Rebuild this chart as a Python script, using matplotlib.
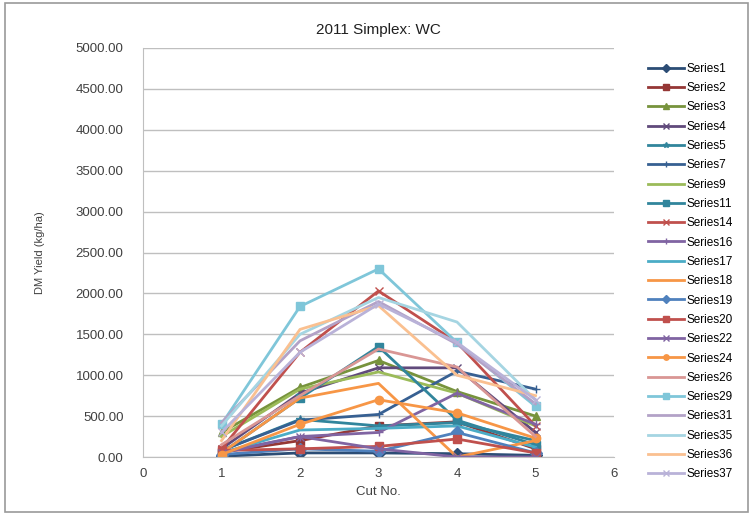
import matplotlib.pyplot as plt
import matplotlib.patches as mpatches

cuts = [1, 2, 3, 4, 5]

series_names = ["Series1", "Series2", "Series3", "Series4", "Series5", "Series7",
                "Series9", "Series11", "Series14", "Series16", "Series17", "Series18",
                "Series19", "Series20", "Series22", "Series24", "Series26", "Series29",
                "Series31", "Series35", "Series36", "Series37"]

s1 = [10, 50, 50, 40, 20]
s2 = [60, 200, 380, 430, 100]
s3 = [300, 850, 1180, 800, 500]
s4 = [100, 780, 1090, 1090, 300]
s5 = [80, 460, 380, 420, 200]
s7 = [80, 450, 520, 1050, 830]
s9 = [250, 830, 1040, 780, 380]
s11 = [50, 720, 1350, 450, 150]
s14 = [100, 1280, 2030, 1400, 380]
s16 = [60, 250, 300, 780, 400]
s17 = [50, 330, 350, 380, 120]
s18 = [50, 720, 900, 0, 200]
s19 = [30, 100, 70, 300, 50]
s20 = [80, 100, 130, 220, 50]
s22 = [50, 250, 100, 0, 0]
s24 = [30, 400, 700, 540, 230]
s26 = [150, 750, 1320, 1100, 250]
s29 = [400, 1840, 2300, 1400, 620]
s31 = [420, 1420, 1900, 1380, 650]
s35 = [380, 1500, 1950, 1650, 700]
s36 = [200, 1560, 1850, 1000, 750]
s37 = [300, 1280, 1870, 1400, 700]

values = [s1, s2, s3, s4, s5, s7, s9, s11, s14, s16, s17, s18,
          s19, s20, s22, s24, s26, s29, s31, s35, s36, s37]

colors = ["#2C4D75", "#953735", "#77933C", "#604A7B", "#31859C", "#376092",
          "#9BBB59", "#31859C", "#C0504D", "#8064A2", "#4BACC6", "#F79646",
          "#4F81BD", "#C0504D", "#8064A2", "#F79646", "#D99694", "#7FC6D9",
          "#B3A2C7", "#A5D5E2", "#FAC090", "#B9B2D8"]
markers = ["D", "s", "^", "x", "*", "+", None, "s", "x", "+", None, None,
           "D", "s", "x", "o", None, "s", None, None, None, "x"]

plt.rcParams['font.family'] = ['Liberation Sans', 'DejaVu Sans']

fig = plt.figure(figsize=(7.53, 5.15), dpi=100)
fig.patches.append(mpatches.Rectangle((0.006, 0.006), 0.988, 0.988, transform=fig.transFigure,
                                      fill=False, edgecolor="#9a9a9a", linewidth=1.2))
ax = fig.add_axes([143 / 753, 1 - 457 / 515, (614 - 143) / 753, (457 - 48) / 515])

for name, vals, c, m in zip(series_names, values, colors, markers):
    ax.plot(cuts, vals, color=c, marker=m, markersize=6, linewidth=2, label=name)

ax.set_xlim(0, 6)
ax.set_ylim(0, 5000)
ax.set_yticks(range(0, 5001, 500))
ax.set_yticklabels(["%.2f" % v for v in range(0, 5001, 500)])
ax.set_xticks(range(0, 7))
ax.grid(axis="y", color="#bfbfbf", linewidth=1)
ax.set_axisbelow(True)
for side in ["top", "right"]:
    ax.spines[side].set_visible(False)
for side in ["left", "bottom"]:
    ax.spines[side].set_color("#bfbfbf")
ax.tick_params(axis="both", length=0, labelsize=9.5, colors="#404040")
ax.tick_params(axis="y", pad=14)
ax.tick_params(axis="x", pad=8)
ax.set_xlabel("Cut No.", fontsize=9.5, color="#404040", labelpad=4)
ax.set_ylabel("DM Yield (kg/ha)", fontsize=8, color="#404040", labelpad=22)
ax.set_title("2011 Simplex: WC", fontsize=11, color="#202020", pad=10)

ax.legend(loc="upper left", bbox_to_anchor=(643 / 753, 1 - 58 / 515), bbox_transform=fig.transFigure,
          frameon=False, fontsize=8.5, handlelength=3.1, labelspacing=0.62, handletextpad=0.2,
          markerscale=0.65, borderaxespad=0)

plt.savefig("out.png", dpi=100)
